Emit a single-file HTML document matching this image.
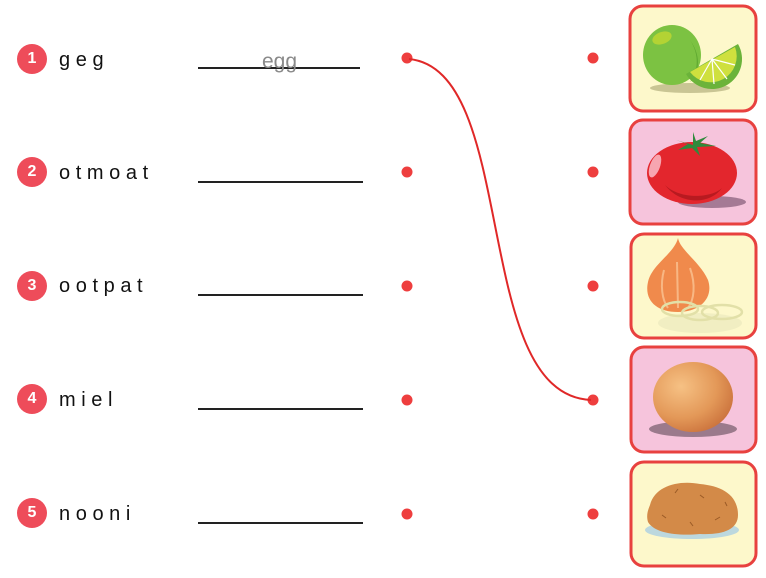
<!DOCTYPE html>
<html><head><meta charset="utf-8"><style>
html,body{margin:0;padding:0;background:#fff;}
body{width:766px;height:578px;position:relative;overflow:hidden;font-family:"Liberation Sans",sans-serif;}
svg{position:absolute;left:0;top:0;}
.w{position:absolute;left:59px;font-size:20px;letter-spacing:5.6px;color:#111;line-height:20px;}
.n{position:absolute;left:17px;width:30px;height:30px;border-radius:50%;background:#ee4c5a;color:#fff;font-weight:bold;font-size:16px;line-height:30px;text-align:center;}
.ans{position:absolute;left:262px;top:51px;font-size:21px;color:#8a8a8a;line-height:21px;}
</style></head><body>
<svg width="766" height="578" viewBox="0 0 766 578">
<defs>
<radialGradient id="eg" cx="0.35" cy="0.35" r="0.75">
<stop offset="0" stop-color="#f6c184"/><stop offset="0.6" stop-color="#e39858"/><stop offset="1" stop-color="#c96f3a"/>
</radialGradient>
</defs>
<g stroke="#222" stroke-width="2">
<line x1="198" y1="68" x2="360" y2="68"/>
<line x1="198" y1="182" x2="363" y2="182"/>
<line x1="198" y1="295" x2="363" y2="295"/>
<line x1="198" y1="409" x2="363" y2="409"/>
<line x1="198" y1="523" x2="363" y2="523"/>
</g>
<g fill="#ee3e3e">
<circle cx="407" cy="58" r="5.5"/><circle cx="407" cy="172" r="5.5"/><circle cx="407" cy="286" r="5.5"/><circle cx="407" cy="400" r="5.5"/><circle cx="407" cy="514" r="5.5"/>
<circle cx="593" cy="58" r="5.5"/><circle cx="593" cy="172" r="5.5"/><circle cx="593" cy="286" r="5.5"/><circle cx="593" cy="400" r="5.5"/><circle cx="593" cy="514" r="5.5"/>
</g>
<path d="M409,59 C520,70 470,395 591,400" fill="none" stroke="#e02828" stroke-width="2"/>
<g stroke="#e8413f" stroke-width="3">
<rect x="630" y="6" width="126" height="105" rx="13" fill="#fdf8cb"/>
<rect x="630" y="120" width="126" height="104" rx="13" fill="#f6c4dc"/>
<rect x="631" y="234" width="125" height="104" rx="13" fill="#fdf8cb"/>
<rect x="631" y="347" width="125" height="105" rx="13" fill="#f6c4dc"/>
<rect x="631" y="462" width="125" height="104" rx="13" fill="#fdf8cb"/>
</g>
<ellipse cx="690" cy="88" rx="40" ry="5" fill="#c9c594"/>
<ellipse cx="672" cy="55" rx="29" ry="30" fill="#7cc242"/>
<path d="M690,40 C700,55 698,72 690,82 C698,75 703,58 690,40Z" fill="#5fa831"/>
<ellipse cx="662" cy="38" rx="10" ry="6" fill="#b3d334" transform="rotate(-20 662 38)"/>
<path d="M686,74 L738,44 A30,30 0 0 1 686,74Z" fill="#6bb33a"/>
<path d="M690,72 L735,47 A26,26 0 0 1 690,72Z" fill="#cfe03e"/>
<g stroke="#fff" stroke-width="1.2">
<line x1="712" y1="59" x2="700" y2="80"/><line x1="712" y1="59" x2="714" y2="84"/><line x1="712" y1="59" x2="727" y2="79"/><line x1="712" y1="59" x2="735" y2="65"/>
</g>
<ellipse cx="712" cy="202" rx="34" ry="6" fill="#a57a95"/>
<ellipse cx="692" cy="173" rx="45" ry="31" fill="#e3262d"/>
<path d="M665,185 C680,205 710,205 722,188 C712,198 680,200 665,185Z" fill="#b81a20"/>
<ellipse cx="655" cy="166" rx="5" ry="12" fill="#f7a5b0" transform="rotate(20 655 166)"/>
<path d="M693,145 L676,140 L688,144 L678,150 L692,148 L700,156 L697,147 L716,146 L700,143 L708,136 L696,141 L693,132Z" fill="#2f8a3c"/>
<path d="M678,238 C680,250 700,262 708,280 C714,298 700,312 678,312 C656,312 644,300 648,282 C652,264 674,254 678,238Z" fill="#f08a4c"/>
<g stroke="#f8b784" stroke-width="2" fill="none">
<path d="M664,270 C660,285 662,300 668,308"/><path d="M690,268 C696,285 694,300 688,308"/><path d="M677,262 L678,308"/>
</g>
<ellipse cx="700" cy="323" rx="42" ry="10" fill="#f1eec2"/>
<g fill="none" stroke="#e2e0a8" stroke-width="2.5">
<ellipse cx="680" cy="309" rx="18" ry="7"/><ellipse cx="700" cy="313" rx="18" ry="7"/><ellipse cx="722" cy="312" rx="20" ry="7"/>
</g>
<ellipse cx="693" cy="429" rx="44" ry="8" fill="#9b7a8c"/>
<ellipse cx="693" cy="397" rx="40" ry="35" fill="url(#eg)"/>
<ellipse cx="692" cy="530" rx="47" ry="9" fill="#bcd8de"/>
<path d="M650,505 C655,485 680,480 700,484 C722,486 738,495 738,515 C738,530 722,535 700,534 C680,536 655,534 648,522 C646,515 648,510 650,505Z" fill="#d38a48"/>
<g stroke="#9a5a26" stroke-width="1" fill="none">
<path d="M675,493 l3,-4"/><path d="M700,495 l4,3"/><path d="M662,515 l4,3"/><path d="M715,520 l5,-3"/><path d="M690,522 l3,4"/><path d="M725,502 l2,4"/>
</g>
</svg>
<div class="n" style="top:44px">1</div>
<div class="n" style="top:157px">2</div>
<div class="n" style="top:271px">3</div>
<div class="n" style="top:384px">4</div>
<div class="n" style="top:498px">5</div>
<div class="w" style="top:50px">geg</div>
<div class="w" style="top:163px">otmoat</div>
<div class="w" style="top:276px">ootpat</div>
<div class="w" style="top:390px">miel</div>
<div class="w" style="top:504px">nooni</div>
<div class="ans">egg</div>
</body></html>
